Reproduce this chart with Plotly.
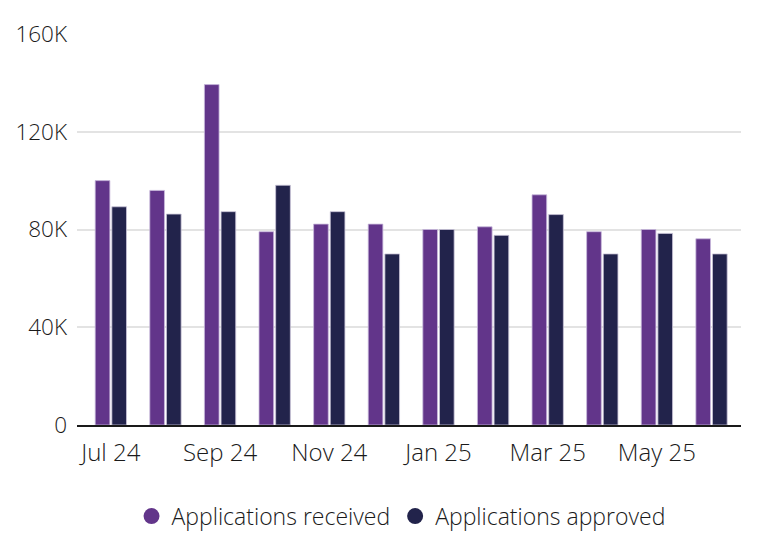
import plotly.graph_objects as go

months = ["Jul 24", "Aug 24", "Sep 24", "Oct 24", "Nov 24", "Dec 24",
          "Jan 25", "Feb 25", "Mar 25", "Apr 25", "May 25", "Jun 25"]
received = [100000, 96000, 139300, 79100, 82200, 82200,
            80000, 81100, 94200, 79100, 80000, 76200]
approved = [89300, 86300, 87300, 98100, 87300, 70000,
            80000, 77600, 86100, 70000, 78400, 70000]
tick_months = ["Jul 24", "Sep 24", "Nov 24", "Jan 25", "Mar 25", "May 25"]
y_ticks = [0, 40000, 80000, 120000, 160000]
y_tick_text = ["0", "40K", "80K", "120K", "160K"]

c_recv = "#62358a"
c_appr = "#22234b"
font_family = "'Open Sans', Roboto, sans-serif"

fig = go.Figure()
fig.add_trace(go.Bar(x=months, y=received, name="Applications received",
                     marker=dict(color=c_recv, line=dict(color="rgba(200,185,220,0.8)", width=1)),
                     showlegend=False))
fig.add_trace(go.Bar(x=months, y=approved, name="Applications approved",
                     marker=dict(color=c_appr, line=dict(color="rgba(200,195,215,0.8)", width=1)),
                     showlegend=False))
fig.add_trace(go.Scatter(x=[None], y=[None], mode="markers", name="Applications received",
                         marker=dict(color=c_recv, size=18, symbol="circle")))
fig.add_trace(go.Scatter(x=[None], y=[None], mode="markers", name="Applications approved",
                         marker=dict(color=c_appr, size=18, symbol="circle")))

fig.update_layout(
    width=762, height=550,
    margin=dict(l=69, r=29, t=26, b=133, autoexpand=False),
    paper_bgcolor="white", plot_bgcolor="white",
    barmode="group", bargap=0.39, bargroupgap=0.12,
    font=dict(family=font_family, color="#1a1a1a", size=24, weight=300),
    legend=dict(orientation="h", x=0.488, xanchor="center", y=-0.178, yanchor="top",
                font=dict(size=23, weight=300), itemsizing="trace"),
    showlegend=True,
)
fig.update_xaxes(type="category", categoryorder="array", categoryarray=months,
                 range=[-0.62, 11.54], automargin=False,
                 tickmode="array", tickvals=tick_months, ticktext=tick_months,
                 showgrid=False, showline=True, linecolor="#1a1a1a", linewidth=2,
                 ticks="", ticklabelstandoff=5, tickfont=dict(size=24, weight=300))
fig.update_yaxes(range=[0, 160000], tickvals=y_ticks, ticktext=y_tick_text,
                 automargin=False,
                 showgrid=True, gridcolor="#e3e3e3", gridwidth=2,
                 zeroline=False, showline=False, ticks="", ticklabelstandoff=9,
                 tickfont=dict(size=22.5, weight=300))

fig.write_html("out.html")
